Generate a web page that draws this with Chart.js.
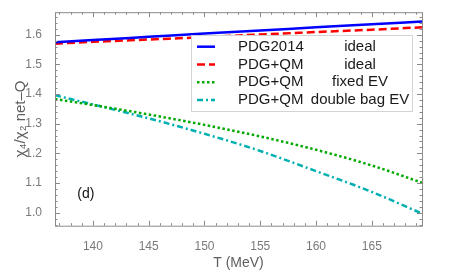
<!DOCTYPE html>
<html>
<head>
<meta charset="utf-8">
<script src="https://cdn.jsdelivr.net/npm/chart.js@4"></script>
<style>
  html, body { margin: 0; padding: 0; background: #fff; }
</style>
</head>
<body>
<canvas id="c" width="450" height="280"></canvas>
<script>
const temps = [136.6, 140, 145, 150, 155, 160, 165, 169.5];
const pdgIdeal   = [1.575, 1.582, 1.593, 1.604, 1.614, 1.625, 1.635, 1.645];
const qmIdeal    = [1.570, 1.576, 1.584, 1.592, 1.601, 1.609, 1.617, 1.625];
const qmFixedEV  = [1.383, 1.363, 1.331, 1.296, 1.257, 1.212, 1.159, 1.101];
const qmDoubleEV = [1.396, 1.365, 1.318, 1.266, 1.208, 1.140, 1.070, 0.997];

const xTicks = [140, 145, 150, 155, 160, 165];
const yTicks = [1.0, 1.1, 1.2, 1.3, 1.4, 1.5, 1.6];

const legendNames  = ['PDG2014', 'PDG+QM', 'PDG+QM', 'PDG+QM'];
const legendModels = ['ideal', 'ideal', 'fixed EV', 'double bag EV'];

const FONT = "'Liberation Sans', Arial, sans-serif";

function pts(ys){ return temps.map((t,i)=>({x:t, y:ys[i]})); }

/* frame, inward ticks, legend and panel label */
const framePlugin = {
  id: 'frame',
  afterDraw(chart){
    const ctx = chart.ctx;
    const a = chart.chartArea;
    const xs = chart.scales.x, ys = chart.scales.y;
    ctx.save();
    ctx.strokeStyle = '#8a8a8a';
    ctx.lineWidth = 1;
    ctx.strokeRect(a.left+0.5, a.top+0.5, a.right-a.left, a.bottom-a.top);

    ctx.beginPath();
    for(let t=137; t<=169; t++){
      const px = Math.round(xs.getPixelForValue(t))+0.5;
      const len = t%5===0 ? 5 : 2.5;
      ctx.moveTo(px, a.bottom); ctx.lineTo(px, a.bottom-len);
      ctx.moveTo(px, a.top); ctx.lineTo(px, a.top+len);
    }
    for(let k=48; k<=83; k++){
      const v = k*0.02;
      const py = Math.round(ys.getPixelForValue(v))+0.5;
      const len = k%5===0 ? 5 : 2.5;
      ctx.moveTo(a.left, py); ctx.lineTo(a.left+len, py);
      ctx.moveTo(a.right, py); ctx.lineTo(a.right-len, py);
    }
    ctx.stroke();

    // legend
    const bx = 191, by = 35, bw = 221, bh = 76;
    ctx.fillStyle = '#fff';
    ctx.fillRect(bx, by, bw, bh);
    ctx.strokeStyle = '#d4d4d4';
    ctx.strokeRect(bx+0.5, by+0.5, bw, bh);
    ctx.font = '15px ' + FONT;
    ctx.textBaseline = 'middle';
    chart.data.datasets.forEach((ds, i)=>{
      const y = 46.7 + i*17.8;
      ctx.strokeStyle = ds.borderColor;
      ctx.lineWidth = ds.borderWidth;
      ctx.setLineDash(ds.borderDash || []);
      ctx.beginPath();
      ctx.moveTo(197, y); ctx.lineTo(215, y);
      ctx.stroke();
      ctx.setLineDash([]);
      ctx.fillStyle = '#1a1a1a';
      ctx.textAlign = 'left';
      ctx.fillText(legendNames[i], 238, y);
      ctx.textAlign = 'center';
      ctx.fillText(legendModels[i], 360, y);
    });

    // panel label
    ctx.fillStyle = '#111';
    ctx.font = '14px ' + FONT;
    ctx.textAlign = 'left';
    ctx.fillText('(d)', xs.getPixelForValue(138.6), ys.getPixelForValue(1.062));
    ctx.restore();
  }
};

new Chart(document.getElementById('c'), {
  type: 'line',
  data: {
    datasets: [
      { data: pts(pdgIdeal),   borderColor: '#0000ff', borderWidth: 2.5 },
      { data: pts(qmIdeal),    borderColor: '#ff0000', borderWidth: 2.5, borderDash: [8, 4] },
      { data: pts(qmFixedEV),  borderColor: '#00a800', borderWidth: 2.5, borderDash: [2.5, 2.5] },
      { data: pts(qmDoubleEV), borderColor: '#00b0b0', borderWidth: 2.5, borderDash: [6, 3, 2, 3] }
    ]
  },
  options: {
    responsive: false,
    animation: false,
    layout: { padding: { top: 1, right: 28, left: 0, bottom: 0 } },
    elements: { point: { radius: 0 }, line: { cubicInterpolationMode: 'monotone', fill: false } },
    plugins: { legend: { display: false }, tooltip: { enabled: false } },
    scales: {
      x: {
        type: 'linear', min: 136.6, max: 169.5,
        grid: { display: false }, border: { display: false },
        afterBuildTicks(s){ s.ticks = xTicks.map(v=>({value:v})); },
        afterFit(s){ s.height = 54.3; },
        ticks: { color: '#7a7a7a', font: { family: FONT, size: 12 }, padding: 6, maxRotation: 0 },
        title: { display: true, text: 'T (MeV)', color: '#5e5e5e',
                 font: { family: FONT, size: 14 }, padding: { top: 0, bottom: 8.6 } }
      },
      y: {
        type: 'linear', min: 0.956, max: 1.676,
        grid: { display: false }, border: { display: false },
        afterBuildTicks(s){ s.ticks = yTicks.map(v=>({value:v})); },
        afterFit(s){ s.width = 55; },
        ticks: { color: '#7a7a7a', font: { family: FONT, size: 12 }, padding: 5,
                 callback: v => v.toFixed(1) },
        title: { display: true, text: 'χ₄/χ₂ net–Q', color: '#5e5e5e',
                 font: { family: FONT, size: 15 }, padding: { top: 12, bottom: 0 } }
      }
    }
  },
  plugins: [framePlugin]
});
</script>
</body>
</html>
